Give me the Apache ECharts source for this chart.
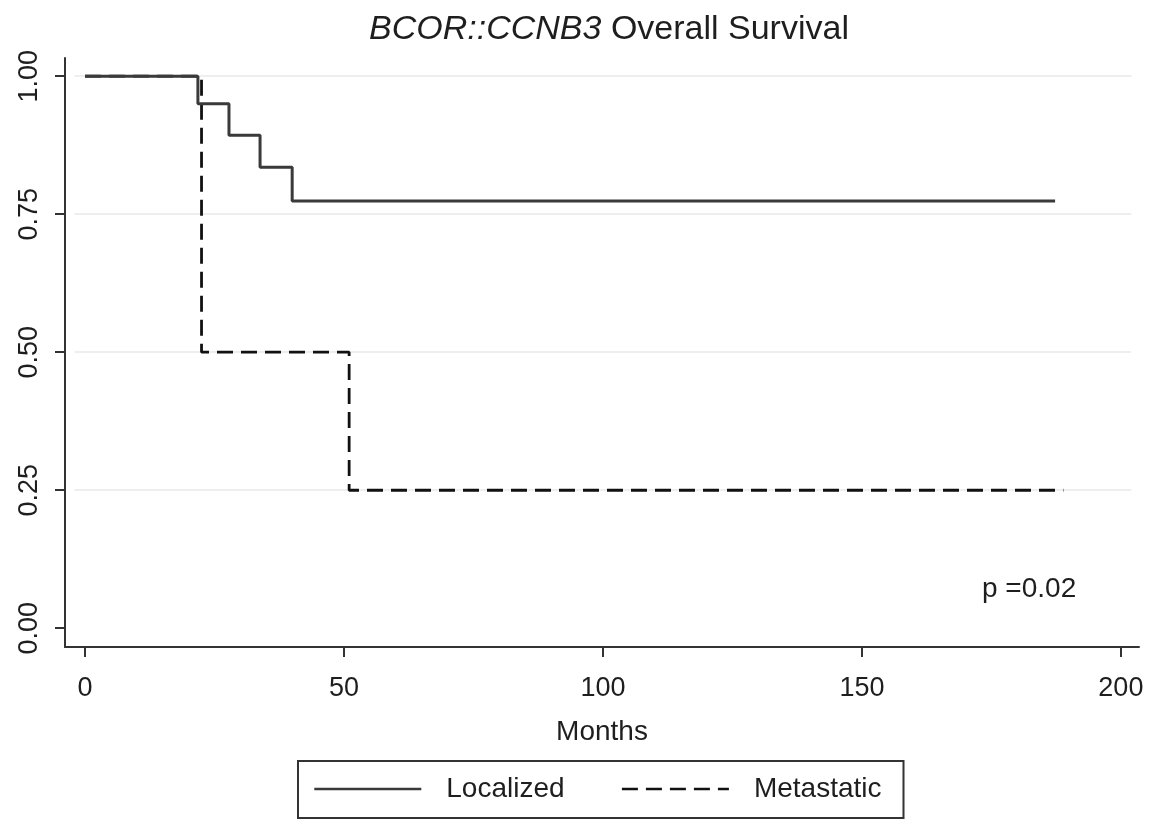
<!DOCTYPE html>
<html>
<head>
<meta charset="utf-8">
<title>BCOR::CCNB3 Overall Survival</title>
<script src="https://cdn.jsdelivr.net/npm/echarts@6/dist/echarts.min.js"></script>
<style>
  html, body { margin: 0; padding: 0; background: #fff; }
  #main { width: 1157px; height: 823px; }
</style>
</head>
<body>
<div id="main"></div>
<script>
// 生存曲线数据 (月, 生存率)
var localizedMonths = [0, 21.8, 27.8, 33.8, 40.0, 187.3]
var localizedSurv = [1, 0.95, 0.893, 0.835, 0.774, 0.774]
var metastaticMonths = [0, 22.5, 51.0, 188.9]
var metastaticSurv = [1, 0.5, 0.25, 0.25]
// 坐标轴刻度
var xTicks = [0, 50, 100, 150, 200]
var yTicks = [0, 0.25, 0.5, 0.75, 1]
var gridValues = [0.25, 0.5, 0.75, 1]
var pValueText = 'p =0.02'

var font = 'Liberation Sans, Arial, Helvetica, sans-serif'
var ink = '#1e1e1e'

function pairs (xs, ys) {
  var out = []
  for (var i = 0; i < xs.length; i++) {
    out.push([xs[i], ys[i]])
  }
  return out
}

// 浅灰色横向网格线
var gridLines = gridValues.map(function (v) {
  return [{ coord: [-2, v] }, { coord: [202, v] }]
})

var dom = document.getElementById('main')
var myChart = echarts.init(dom)
var option = {
  backgroundColor: '#fff',
  animation: false,
  title: {
    text: '{i|BCOR::CCNB3} Overall Survival',
    left: 604,
    top: 8,
    textAlign: 'center',
    textStyle: {
      fontFamily: font,
      fontSize: 34,
      fontWeight: 'normal',
      color: ink,
      rich: {
        i: { fontFamily: font, fontSize: 34, fontStyle: 'italic', color: ink }
      }
    }
  },
  grid: { left: 65, right: 18, top: 58, bottom: 176, containLabel: false },
  xAxis: {
    type: 'value',
    min: -3.86,
    max: 203.5,
    name: 'Months',
    nameLocation: 'middle',
    nameGap: 71,
    nameTextStyle: { fontFamily: font, fontSize: 28, color: ink },
    axisLine: { show: true, onZero: false, lineStyle: { color: '#333', width: 2 } },
    axisTick: { show: true, length: 10, customValues: xTicks, lineStyle: { color: '#333', width: 2 } },
    axisLabel: { customValues: xTicks, margin: 28, fontFamily: font, fontSize: 27, color: ink },
    splitLine: { show: false }
  },
  yAxis: {
    type: 'value',
    min: -0.034,
    max: 1.033,
    axisLine: { show: true, onZero: false, lineStyle: { color: '#333', width: 2 } },
    axisTick: { show: true, length: 10, customValues: yTicks, lineStyle: { color: '#333', width: 2 } },
    axisLabel: {
      customValues: yTicks,
      rotate: 90,
      margin: 22,
      fontFamily: font,
      fontSize: 27,
      color: ink,
      formatter: function (v) { return v.toFixed(2) }
    },
    splitLine: { show: false }
  },
  legend: {
    left: 298,
    top: 761,
    orient: 'horizontal',
    padding: [14, 22, 15, 15],
    itemGap: 56,
    itemWidth: 107,
    itemHeight: 14,
    borderColor: '#333',
    borderWidth: 2,
    borderRadius: 0,
    itemStyle: { opacity: 0 },
    lineStyle: { width: 2.6 },
    textStyle: { fontFamily: font, fontSize: 28, color: ink, padding: [0, 0, 0, 20] },
    data: ['Localized', 'Metastatic']
  },
  series: [
    {
      name: 'Localized',
      type: 'line',
      step: 'end',
      symbol: 'none',
      data: pairs(localizedMonths, localizedSurv),
      lineStyle: { color: '#3a3a3a', width: 3, type: 'solid' },
      itemStyle: { color: '#3a3a3a' },
      z: 3,
      markLine: {
        silent: true,
        symbol: 'none',
        label: { show: false },
        lineStyle: { color: '#eeeeee', width: 2, type: 'solid' },
        data: gridLines,
        z: 1
      }
    },
    {
      name: 'Metastatic',
      type: 'line',
      step: 'end',
      symbol: 'none',
      data: pairs(metastaticMonths, metastaticSurv),
      lineStyle: { color: '#111', width: 2.8, type: [16, 8] },
      itemStyle: { color: '#111' },
      z: 2
    }
  ],
  graphic: [
    {
      type: 'text',
      left: 982,
      top: 575,
      style: { text: pValueText, fontFamily: font, fontSize: 28, fill: ink }
    }
  ]
}
myChart.setOption(option)
</script>
</body>
</html>
